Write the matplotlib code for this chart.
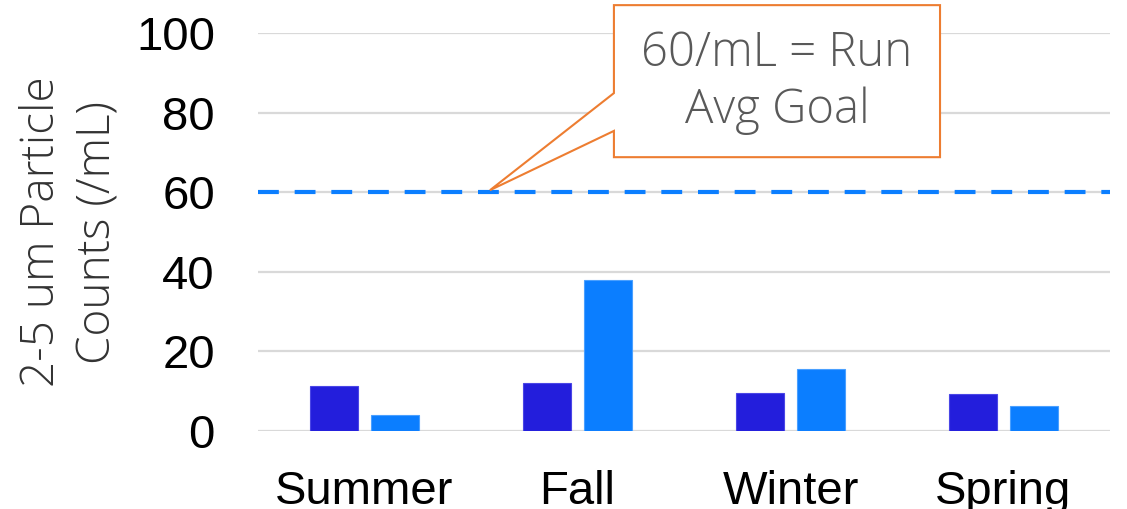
import matplotlib
matplotlib.use("Agg")
import matplotlib.pyplot as plt
from matplotlib.patches import Polygon
import numpy as np

categories = ["Summer", "Fall", "Winter", "Spring"]
series_a = [11.3, 12.0, 9.5, 9.3]
series_b = [4.0, 37.9, 15.6, 6.3]
goal = 60
yticks = [0, 20, 40, 60, 80, 100]
ylabel = "2-5 um Particle\nCounts (/mL)"
callout_text = "60/mL = Run\nAvg Goal"

fig = plt.figure(figsize=(11.27, 5.09), dpi=100)
ax = fig.add_axes([258/1127, 1-431/509, (1110-258)/1127, (431-33)/509])

x = np.arange(len(categories))
w = 0.225
off = 0.143
ax.bar(x - off, series_a, w, color="#231EDC", edgecolor="#4a46e6", linewidth=0.8, zorder=3)
ax.bar(x + off, series_b, w, color="#0B7EFF", edgecolor="#4aa0ff", linewidth=0.8, zorder=3)

ax.set_xlim(-0.5, len(categories) - 0.5)
ax.set_ylim(0, 100)
ax.set_yticks(yticks)
ax.set_xticks(x)
ax.set_xticklabels(categories)
for s in ax.spines.values():
    s.set_visible(False)
ax.grid(axis="y", color="#D9D9D9", linewidth=1.6, zorder=0)
ax.tick_params(axis="both", length=0, labelsize=34, colors="black")
ax.tick_params(axis="y", pad=31)
ax.tick_params(axis="x", pad=28)
for lab in ax.get_xticklabels() + ax.get_yticklabels():
    lab.set_fontfamily("Liberation Sans")

ax.plot([-0.5, len(categories) - 0.5], [goal, goal], color="#0B7EFF", lw=3,
        linestyle=(0, (5, 3.8)), zorder=4, clip_on=False)

# callout
bx0, bx1 = 1.171, 2.702
by0, by1 = 68.8, 107.0
px, py = 0.589, 60.5
pb_hi, pb_lo = 84.9, 75.4
poly = Polygon([(bx0, by0), (bx0, pb_lo), (px, py), (bx0, pb_hi), (bx0, by1),
                (bx1, by1), (bx1, by0)], closed=True, facecolor="white",
               edgecolor="#ED7D31", linewidth=1.5, zorder=5, clip_on=False)
ax.add_patch(poly)
ax.text((bx0 + bx1) / 2, (by0 + by1) / 2 - 0.3, callout_text, ha="center", va="center",
        fontsize=34, color="#595959", family="Open Sans", fontweight="light",
        linespacing=1.25, zorder=6)

fig.text(70/1127, 1-232/509, ylabel, rotation=90, ha="center", va="center",
         fontsize=33, color="#333333", family="Open Sans", fontweight="light",
         linespacing=1.3, multialignment="center")

fig.savefig("out.png", dpi=100)
